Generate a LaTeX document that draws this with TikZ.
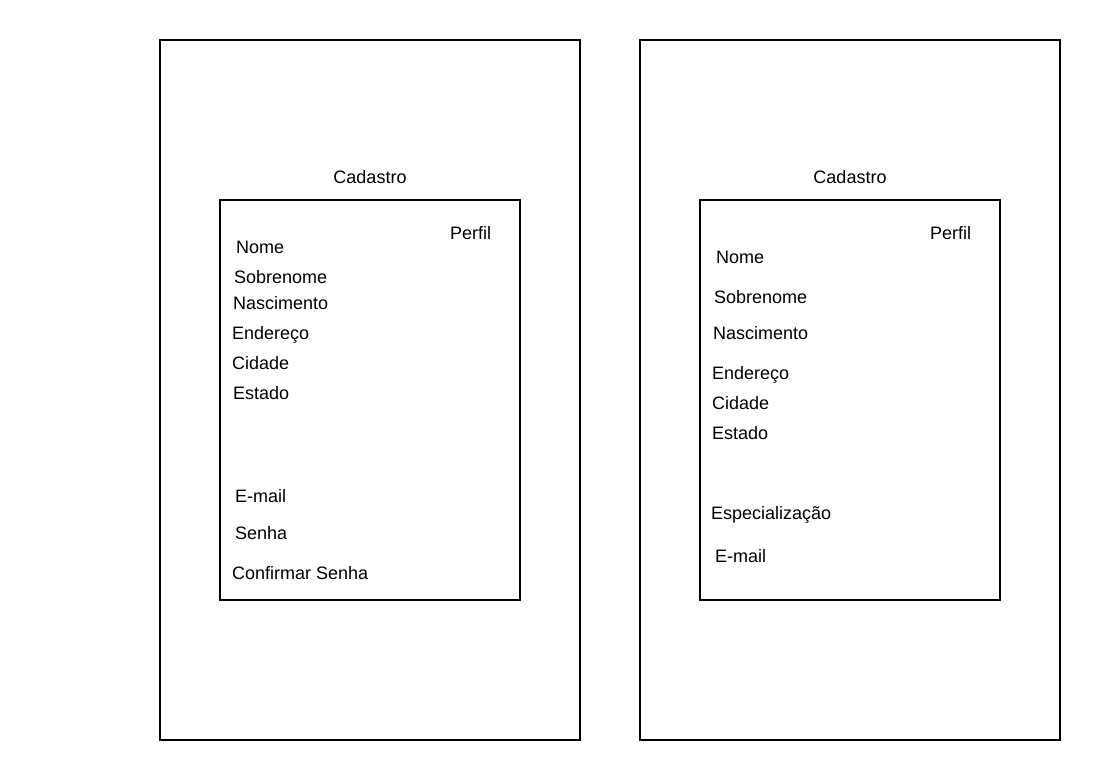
\documentclass[tikz,border=0pt]{standalone}
\usepackage{tikz}
\usetikzlibrary{backgrounds,calc}
\usepackage{fontspec}
\setmainfont{Liberation Sans}

\begin{document}
\begin{tikzpicture}[x=1pt,y=-1pt,
  tela/.style={draw=black,line width=2pt},
  campo/.style={anchor=base west,inner sep=0pt,font=\fontsize{18}{21}\selectfont},
  titulo/.style={anchor=base,inner sep=0pt,font=\fontsize{18}{21}\selectfont}]
\useasboundingbox (0,0) rectangle (1100,780);
% tela da esquerda
\draw[tela] (160,40) rectangle (580,740);
\draw[tela] (220,200) rectangle (520,600);
\node[titulo] (cadA) at (370,183) {Cadastro};
\node[campo] (perfilA) at (450,239) {Perfil};
\node[campo] (nomeA) at (236,253) {Nome};
\node[campo] (sobrenomeA) at (234,283) {Sobrenome};
\node[campo] (nascA) at (233,309) {Nascimento};
\node[campo] (endA) at (232,339) {Endereço};
\node[campo] (cidadeA) at (232,369) {Cidade};
\node[campo] (estadoA) at (233,399) {Estado};
\node[campo] (emailA) at (235,502) {E-mail};
\node[campo] (senhaA) at (235,539) {Senha};
\node[campo] (confA) at (232,579) {Confirmar Senha};
% tela da direita
\draw[tela] (640,40) rectangle (1060,740);
\draw[tela] (700,200) rectangle (1000,600);
\node[titulo] (cadB) at (850,183) {Cadastro};
\node[campo] (perfilB) at (930,239) {Perfil};
\node[campo] (nomeB) at (716,263) {Nome};
\node[campo] (sobrenomeB) at (714,303) {Sobrenome};
\node[campo] (nascB) at (713,339) {Nascimento};
\node[campo] (endB) at (712,379) {Endereço};
\node[campo] (cidadeB) at (712,409) {Cidade};
\node[campo] (estadoB) at (712,439) {Estado};
\node[campo] (especB) at (711,519) {Especialização};
\node[campo] (emailB) at (715,562) {E-mail};
\end{tikzpicture}
\end{document}
